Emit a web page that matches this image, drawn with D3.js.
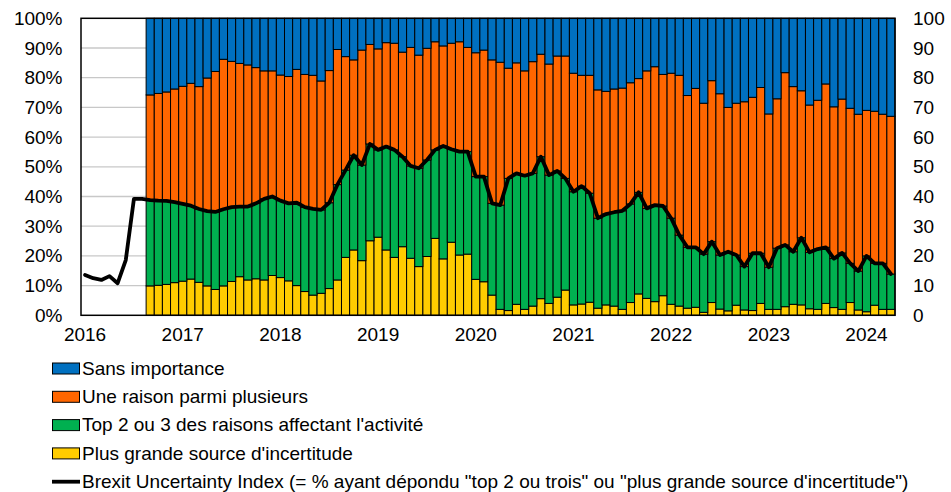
<!DOCTYPE html>
<html>
<head>
<meta charset="utf-8">
<script src="https://cdn.jsdelivr.net/npm/d3@7"></script>
<style>
  html, body { margin: 0; padding: 0; background: #fff; }
  svg { display: block; }
  text { font-family: "Liberation Sans", Arial, sans-serif; fill: #000; }
</style>
</head>
<body>
<svg id="chart" width="951" height="492"></svg>
<script>
// ---- Data ----
const firstMonth = new Date(2016, 0, 1);   // first category (line starts here)
const endMonth = new Date(2024, 4, 1);     // exclusive end (last category Apr 2024)
const firstBarMonth = new Date(2016, 8, 1); // survey bars start Sep 2016

const yearLabels = ["2016", "2017", "2018", "2019", "2020", "2021", "2022", "2023", "2024"];
const leftTickLabels = ["0%", "10%", "20%", "30%", "40%", "50%", "60%", "70%", "80%", "90%", "100%"];
const rightTickLabels = ["0", "10", "20", "30", "40", "50", "60", "70", "80", "90", "100"];
const tickValues = [0, 10, 20, 30, 40, 50, 60, 70, 80, 90, 100];

const seriesNames = ["Plus grande source d'incertitude", "Top 2 ou 3 des raisons affectant l'activité", "Une raison parmi plusieurs", "Sans importance"];
const lineName = "Brexit Uncertainty Index (= % ayant dépondu \"top 2 ou trois\" ou \"plus grande source d'incertitude\")";

// Plus grande source d'incertitude (Sep 2016 - Apr 2024)
const plusGrande = [
  9.9,10.1,10.4,11.0,11.5,12.2,11.1,9.9,8.7,9.9,
  11.4,13.0,11.9,12.3,11.9,13.4,12.7,11.6,10.0,8.0,
  6.8,7.4,9.0,11.9,19.5,22.0,18.4,25.1,26.3,22.0,
  19.5,23.1,19.2,16.4,19.8,25.9,19.0,24.6,20.3,20.6,
  12.1,11.3,6.8,2.0,1.6,3.7,2.0,3.1,5.6,4.0,
  6.1,8.5,3.5,3.8,4.4,2.4,3.5,3.1,2.0,4.3,
  7.2,5.7,4.6,6.6,3.7,3.1,2.4,2.7,1.0,4.3,
  2.1,1.5,3.4,1.8,1.6,4.0,2.0,2.0,2.9,3.7,
  3.5,2.2,2.0,4.0,2.6,2.0,4.3,1.8,1.2,3.4,
  2.0,2.0
];
// Top 2 ou 3 des raisons affectant l'activité
const top2ou3 = [
  28.9,28.5,28.1,27.1,26.0,24.7,24.7,25.2,26.1,25.8,
  25.0,23.6,24.7,25.4,27.3,26.6,25.9,26.1,27.9,28.4,
  29.0,28.1,28.9,32.1,29.4,31.9,32.2,32.6,29.4,34.8,
  36.2,30.3,31.1,33.1,32.5,29.8,38.0,31.3,34.8,34.5,
  34.6,35.4,30.9,35.1,44.5,44.1,45.0,44.7,47.8,43.2,
  42.5,37.6,38.1,39.7,36.7,30.3,30.6,31.6,33.2,33.2,
  34.2,30.3,32.5,30.2,29.0,23.9,20.5,20.2,19.6,20.5,
  18.2,19.9,16.9,14.6,19.3,16.9,14.2,20.6,20.8,17.7,
  22.6,19.0,20.3,18.9,16.5,19.0,13.2,13.1,18.8,14.1,
  15.5,11.9
];
// Une raison parmi plusieurs
const uneRaison = [
  35.4,36.1,36.7,38.1,39.6,41.2,41.2,44.8,47.3,50.5,
  49.1,48.2,47.7,45.7,43.1,42.3,42.3,42.7,44.9,44.7,
  45.0,43.4,44.5,45.5,38.2,32.1,38.7,33.5,34.0,35.0,
  35.9,35.2,39.9,38.1,37.6,36.4,33.7,35.7,37.0,35.1,
  41.7,42.6,48.3,48.1,37.1,37.2,35.3,37.6,34.5,37.4,
  38.7,41.2,39.9,37.3,39.7,43.2,41.3,41.5,41.3,40.8,
  38.3,46.3,46.6,44.3,48.8,53.8,51.1,53.5,50.8,54.2,
  54.3,48.6,51.1,55.5,52.5,55.8,51.6,50.3,58.0,55.6,
  49.5,49.6,50.1,55.0,51.1,51.8,52.2,52.8,49.0,51.2,
  50.2,53.1
];
// Sans importance
const sansImportance = [
  25.8,25.3,24.8,23.8,22.9,21.9,23.0,20.1,17.9,13.8,
  14.5,15.2,15.7,16.6,17.7,17.7,19.1,19.6,17.2,18.9,
  19.2,21.1,17.6,10.5,12.9,14.0,10.7,8.8,10.3,8.2,
  8.4,11.4,9.8,12.4,10.1,7.9,9.3,8.4,7.9,9.8,
  11.6,10.7,14.0,14.8,16.8,15.0,17.7,14.6,12.1,15.4,
  12.7,12.7,18.5,19.2,19.2,24.1,24.6,23.8,23.5,21.7,
  20.3,17.7,16.3,18.9,18.5,19.2,26.0,23.6,28.6,21.0,
  25.4,30.0,28.6,28.1,26.6,23.3,32.2,27.1,18.3,23.0,
  24.4,29.2,27.6,22.1,29.8,27.2,30.3,32.3,31.0,31.3,
  32.3,33.0
];
// Brexit Uncertainty Index (Jan 2016 - Apr 2024), right axis
const brexitIndex = [
  13.6,12.5,11.9,13.2,10.8,18.6,39.2,39.2,
  38.8,38.6,38.5,38.1,37.5,36.9,35.8,35.1,34.8,35.7,
  36.4,36.6,36.6,37.7,39.2,40.0,38.6,37.7,37.9,36.4,
  35.8,35.5,37.9,44.0,48.9,53.9,50.6,57.7,55.7,56.8,
  55.7,53.4,50.3,49.5,52.3,55.7,57.0,55.9,55.1,55.1,
  46.7,46.7,37.7,37.1,46.1,47.8,47.0,47.8,53.4,47.2,
  48.6,46.1,41.6,43.5,41.1,32.7,34.1,34.7,35.2,37.5,
  41.4,36.0,37.1,36.8,32.7,27.0,22.9,22.9,20.6,24.8,
  20.3,21.4,20.3,16.4,20.9,20.9,16.2,22.6,23.7,21.4,
  26.1,21.2,22.3,22.9,19.1,21.0,17.5,14.9,20.0,17.5,
  17.5,13.9
];

const colors = ["#FFCC00", "#00B050", "#FF6600", "#0070C0"];

// ---- Layout ----
const svg = d3.select("#chart");
const M = { left: 81, right: 895, top: 18.3, bottom: 315.3 };
const fontSize = 19;

const months = d3.timeMonth.range(firstMonth, endMonth);
const barMonths = d3.timeMonth.range(firstBarMonth, endMonth);
const fmt = d3.timeFormat("%Y-%m");

const x = d3.scaleBand().domain(months.map(fmt)).range([M.left, M.right]).padding(0);
const yL = d3.scaleLinear().domain([0, 100]).range([M.bottom, M.top]);
const yR = d3.scaleLinear().domain([0, 100]).range([M.bottom, M.top]);

// gridlines
svg.append("g").selectAll("line").data(tickValues.filter(v => v > 0 && v < 100)).join("line")
  .attr("x1", M.left).attr("x2", M.right)
  .attr("y1", d => yL(d)).attr("y2", d => yL(d))
  .attr("stroke", "#c8c8c8").attr("stroke-width", 1.3);

// stacked bars
const keys = ["plusGrande", "top2ou3", "uneRaison", "sansImportance"];
const table = barMonths.map((m, i) => ({
  month: fmt(m),
  plusGrande: plusGrande[i],
  top2ou3: top2ou3[i],
  uneRaison: uneRaison[i],
  sansImportance: sansImportance[i]
}));
const stacked = d3.stack().keys(keys)(table);

svg.append("g").selectAll("g").data(stacked).join("g")
  .attr("fill", (d, i) => colors[i])
  .selectAll("rect").data(d => d).join("rect")
  .attr("x", d => x(d.data.month))
  .attr("width", x.bandwidth())
  .attr("y", d => yL(d[1]))
  .attr("height", d => yL(d[0]) - yL(d[1]))
  .attr("stroke", "#000").attr("stroke-width", 1);

// plot frame
svg.append("rect")
  .attr("x", M.left).attr("y", M.top)
  .attr("width", M.right - M.left).attr("height", M.bottom - M.top)
  .attr("fill", "none").attr("stroke", "#000").attr("stroke-width", 1.5);

// line
const line = d3.line()
  .x((d, i) => x(fmt(months[i])) + x.bandwidth() / 2)
  .y(d => yR(d));
svg.append("path").datum(brexitIndex)
  .attr("d", line)
  .attr("fill", "none").attr("stroke", "#000")
  .attr("stroke-width", 3.8).attr("stroke-linejoin", "round").attr("stroke-linecap", "round");

// left axis labels
const gl = d3.axisLeft(yL).tickValues(tickValues).tickSize(0).tickPadding(18.5)
  .tickFormat((d, i) => leftTickLabels[i]);
svg.append("g").attr("transform", `translate(${M.left},0)`).call(gl)
  .call(g => g.select(".domain").remove())
  .selectAll("text").attr("font-size", fontSize).attr("font-family", "Liberation Sans, Arial, sans-serif").attr("fill", "#000");

// right axis labels
const gr = d3.axisRight(yR).tickValues(tickValues).tickSize(0).tickPadding(18)
  .tickFormat((d, i) => rightTickLabels[i]);
svg.append("g").attr("transform", `translate(${M.right},0)`).call(gr)
  .call(g => g.select(".domain").remove())
  .selectAll("text").attr("font-size", fontSize).attr("font-family", "Liberation Sans, Arial, sans-serif").attr("fill", "#000");

// x axis year labels at January of each year
svg.append("g").selectAll("text").data(yearLabels).join("text")
  .attr("x", d => x(d + "-01") + x.bandwidth() / 2)
  .attr("y", 341)
  .attr("text-anchor", "middle")
  .attr("font-size", fontSize)
  .text(d => d);

// legend
const legendItems = [
  { name: seriesNames[3], color: colors[3], type: "box" },
  { name: seriesNames[2], color: colors[2], type: "box" },
  { name: seriesNames[1], color: colors[1], type: "box" },
  { name: seriesNames[0], color: colors[0], type: "box" },
  { name: lineName, color: "#000", type: "line" }
];
const lg = svg.append("g");
legendItems.forEach((it, i) => {
  const cy = 368.5 + i * 28.3;
  if (it.type === "box") {
    lg.append("rect").attr("x", 52.5).attr("y", cy - 5.5).attr("width", 27).attr("height", 11)
      .attr("fill", it.color).attr("stroke", "#000").attr("stroke-width", 1);
  } else {
    lg.append("line").attr("x1", 52).attr("x2", 80).attr("y1", cy).attr("y2", cy)
      .attr("stroke", "#000").attr("stroke-width", 3.8);
  }
  lg.append("text").attr("x", 82).attr("y", cy + 6.3)
    .attr("font-size", fontSize).text(it.name);
});
</script>
</body>
</html>
